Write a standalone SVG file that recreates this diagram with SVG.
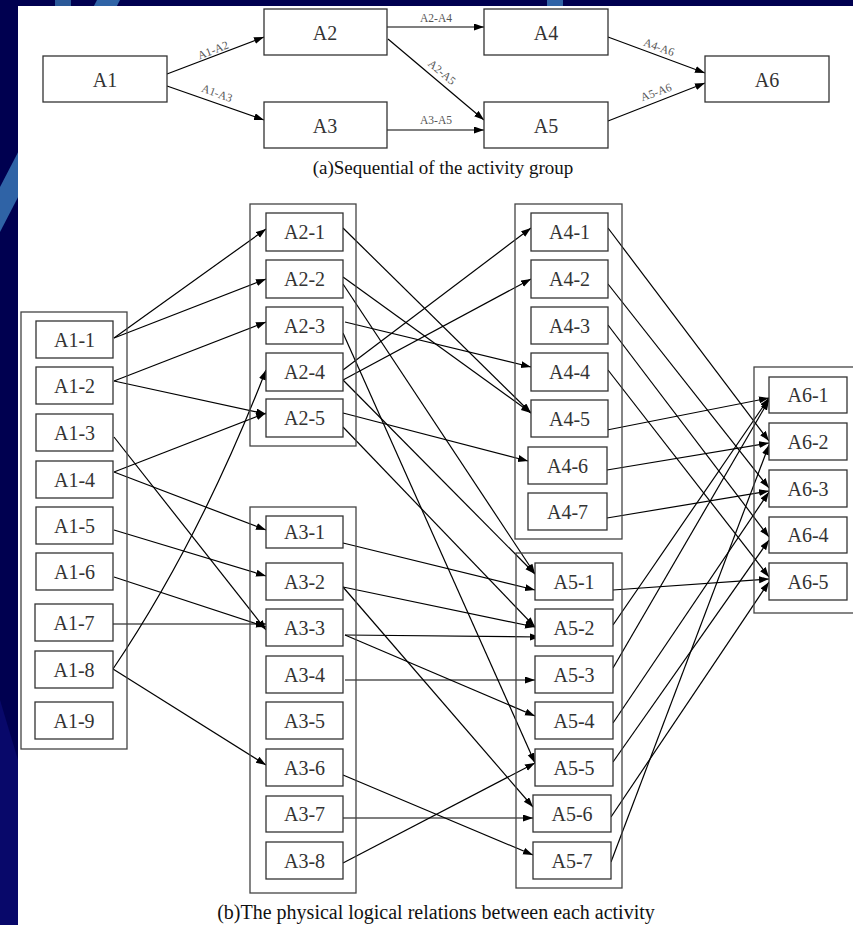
<svg xmlns="http://www.w3.org/2000/svg" width="853" height="925" viewBox="0 0 853 925">
<style>
.bx{fill:#fff;stroke:#333;stroke-width:1.3}
.grp{fill:none;stroke:#444;stroke-width:1.3}
.lb{font-family:"Liberation Serif","Times New Roman",serif;font-size:20px;fill:#333;text-anchor:middle}
.el{font-family:"Liberation Serif","Times New Roman",serif;font-size:11.5px;fill:#555;text-anchor:middle}
.cap{font-family:"Liberation Serif","Times New Roman",serif;fill:#111;text-anchor:middle}
.cn path{fill:none;stroke:#000;stroke-width:1.2;marker-end:url(#ah)}
</style>
<defs>
<marker id="ah" markerUnits="userSpaceOnUse" markerWidth="11" markerHeight="8" refX="10" refY="3.5" orient="auto">
<path d="M0,0 L10,3.5 L0,7 Z" fill="#000"/>
</marker>
</defs>
<g id="background">
<rect x="0" y="0" width="853" height="925" fill="#000050"/>
<polygon points="97,0 120,0 0,232 0,187" fill="#2f63a6"/>
<rect x="55" y="0" width="16" height="6" fill="#2a5898"/>
<rect x="547" y="0" width="16" height="6" fill="#2f63a6"/>
<polygon points="0,700 18,760 18,925 0,925" fill="#08086a"/>
<rect x="18" y="6" width="835" height="919" fill="#fff"/>
</g>
<g id="connectors" class="cn">
<path d="M167,74 L264,37"/>
<path d="M167,86 L264,120"/>
<path d="M387,27 L484,27"/>
<path d="M388,39 L484,120"/>
<path d="M387,130 L484,130"/>
<path d="M608,37 L705,73"/>
<path d="M608,121 L705,83"/>
<path d="M114,338 L266,229"/>
<path d="M114,338 L266,279"/>
<path d="M114,381 L266,322"/>
<path d="M114,381 L266,414"/>
<path d="M114,437 L266,630"/>
<path d="M114,472 L266,413"/>
<path d="M114,472 L266,530"/>
<path d="M114,530 L266,576"/>
<path d="M114,577 L266,627"/>
<path d="M113,624 L266,624"/>
<path d="M113,669 Q200,540 266,370"/>
<path d="M113,669 L266,765"/>
<path d="M343,228 L531,413"/>
<path d="M343,277 L531,413"/>
<path d="M343,284 L535,574"/>
<path d="M345,322 L531,367"/>
<path d="M343,333 L535,763"/>
<path d="M343,370 L531,228"/>
<path d="M343,380 L531,279"/>
<path d="M343,380 L535,574"/>
<path d="M343,413 L528,461"/>
<path d="M343,427 L535,627"/>
<path d="M343,543 L535,590"/>
<path d="M343,587 L535,627"/>
<path d="M343,587 L533,807"/>
<path d="M345,635 L540,637"/>
<path d="M345,635 L535,716"/>
<path d="M345,680 L535,680"/>
<path d="M343,775 L533,855"/>
<path d="M343,818 L533,818"/>
<path d="M343,863 L535,763"/>
<path d="M608,228 L769,441"/>
<path d="M608,284 L769,488"/>
<path d="M608,325 L769,537"/>
<path d="M608,370 L769,577"/>
<path d="M607,430 L769,398"/>
<path d="M607,470 L769,443"/>
<path d="M607,518 L769,491"/>
<path d="M613,590 L769,579"/>
<path d="M613,625 L769,398"/>
<path d="M613,668 L769,400"/>
<path d="M613,723 L769,492"/>
<path d="M613,762 L769,540"/>
<path d="M611,817 L769,582"/>
<path d="M611,862 L769,445"/>
</g>
<g id="edge-labels">
<text class="el" transform="translate(213,50) rotate(-21)" y="4">A1-A2</text>
<text class="el" transform="translate(217,93) rotate(20)" y="4">A1-A3</text>
<text class="el" x="436" y="22">A2-A4</text>
<text class="el" transform="translate(442,72) rotate(40)" y="4">A2-A5</text>
<text class="el" x="436" y="124">A3-A5</text>
<text class="el" transform="translate(659,47) rotate(20)" y="4">A4-A6</text>
<text class="el" transform="translate(656,92) rotate(-20)" y="4">A5-A6</text>
</g>
<g id="A1"><rect class="bx" x="43" y="56" width="124" height="46"/><text class="lb" x="105" y="87">A1</text></g>
<g id="A2"><rect class="bx" x="264" y="9" width="123" height="46"/><text class="lb" x="325" y="40">A2</text></g>
<g id="A3"><rect class="bx" x="264" y="102" width="123" height="46"/><text class="lb" x="325" y="133">A3</text></g>
<g id="A4"><rect class="bx" x="484" y="9" width="124" height="46"/><text class="lb" x="546" y="40">A4</text></g>
<g id="A5"><rect class="bx" x="484" y="102" width="124" height="46"/><text class="lb" x="546" y="133">A5</text></g>
<g id="A6"><rect class="bx" x="705" y="56" width="124" height="46"/><text class="lb" x="767" y="87">A6</text></g>
<text class="cap" x="443" y="174" font-size="19">(a)Sequential of the activity group</text>
<g id="G1"><rect class="grp" x="21" y="312" width="106" height="437"/></g>
<g id="G2"><rect class="grp" x="250" y="204" width="106" height="242"/></g>
<g id="G3"><rect class="grp" x="250" y="507" width="106" height="386"/></g>
<g id="G4"><rect class="grp" x="515" y="204" width="107" height="335"/></g>
<g id="G5"><rect class="grp" x="516" y="553" width="106" height="335"/></g>
<g id="G6"><rect class="grp" x="754" y="367" width="110" height="246"/></g>
<g id="A1-1"><rect class="bx" x="36" y="321" width="77" height="37"/><text class="lb" x="74.5" y="346.5">A1-1</text></g>
<g id="A1-2"><rect class="bx" x="36" y="367" width="77" height="37"/><text class="lb" x="74.5" y="392.5">A1-2</text></g>
<g id="A1-3"><rect class="bx" x="36" y="414" width="77" height="37"/><text class="lb" x="74.5" y="439.5">A1-3</text></g>
<g id="A1-4"><rect class="bx" x="36" y="461" width="77" height="37"/><text class="lb" x="74.5" y="486.5">A1-4</text></g>
<g id="A1-5"><rect class="bx" x="36" y="507" width="77" height="37"/><text class="lb" x="74.5" y="532.5">A1-5</text></g>
<g id="A1-6"><rect class="bx" x="36" y="553" width="77" height="37"/><text class="lb" x="74.5" y="578.5">A1-6</text></g>
<g id="A1-7"><rect class="bx" x="35" y="604" width="78" height="37"/><text class="lb" x="74" y="629.5">A1-7</text></g>
<g id="A1-8"><rect class="bx" x="35" y="651" width="78" height="37"/><text class="lb" x="74" y="676.5">A1-8</text></g>
<g id="A1-9"><rect class="bx" x="35" y="702" width="78" height="37"/><text class="lb" x="74" y="727.5">A1-9</text></g>
<g id="A2-1"><rect class="bx" x="266" y="213" width="77" height="38"/><text class="lb" x="304.5" y="239">A2-1</text></g>
<g id="A2-2"><rect class="bx" x="266" y="260" width="77" height="38"/><text class="lb" x="304.5" y="286">A2-2</text></g>
<g id="A2-3"><rect class="bx" x="266" y="307" width="77" height="37"/><text class="lb" x="304.5" y="332.5">A2-3</text></g>
<g id="A2-4"><rect class="bx" x="266" y="353" width="77" height="38"/><text class="lb" x="304.5" y="379">A2-4</text></g>
<g id="A2-5"><rect class="bx" x="266" y="399" width="77" height="38"/><text class="lb" x="304.5" y="425">A2-5</text></g>
<g id="A3-1"><rect class="bx" x="266" y="516" width="77" height="32"/><text class="lb" x="304.5" y="539">A3-1</text></g>
<g id="A3-2"><rect class="bx" x="266" y="563" width="77" height="37"/><text class="lb" x="304.5" y="588.5">A3-2</text></g>
<g id="A3-3"><rect class="bx" x="266" y="609" width="77" height="37"/><text class="lb" x="304.5" y="634.5">A3-3</text></g>
<g id="A3-4"><rect class="bx" x="266" y="656" width="77" height="37"/><text class="lb" x="304.5" y="681.5">A3-4</text></g>
<g id="A3-5"><rect class="bx" x="266" y="702" width="77" height="37"/><text class="lb" x="304.5" y="727.5">A3-5</text></g>
<g id="A3-6"><rect class="bx" x="266" y="749" width="77" height="37"/><text class="lb" x="304.5" y="774.5">A3-6</text></g>
<g id="A3-7"><rect class="bx" x="266" y="796" width="77" height="36"/><text class="lb" x="304.5" y="821">A3-7</text></g>
<g id="A3-8"><rect class="bx" x="266" y="842" width="77" height="37"/><text class="lb" x="304.5" y="867.5">A3-8</text></g>
<g id="A4-1"><rect class="bx" x="531" y="213" width="77" height="38"/><text class="lb" x="569.5" y="239">A4-1</text></g>
<g id="A4-2"><rect class="bx" x="531" y="260" width="77" height="38"/><text class="lb" x="569.5" y="286">A4-2</text></g>
<g id="A4-3"><rect class="bx" x="531" y="307" width="77" height="37"/><text class="lb" x="569.5" y="332.5">A4-3</text></g>
<g id="A4-4"><rect class="bx" x="531" y="353" width="77" height="38"/><text class="lb" x="569.5" y="379">A4-4</text></g>
<g id="A4-5"><rect class="bx" x="531" y="400" width="77" height="37"/><text class="lb" x="569.5" y="425.5">A4-5</text></g>
<g id="A4-6"><rect class="bx" x="528" y="447" width="79" height="37"/><text class="lb" x="567.5" y="472.5">A4-6</text></g>
<g id="A4-7"><rect class="bx" x="528" y="493" width="79" height="37"/><text class="lb" x="567.5" y="518.5">A4-7</text></g>
<g id="A5-1"><rect class="bx" x="535" y="563" width="78" height="37"/><text class="lb" x="574" y="588.5">A5-1</text></g>
<g id="A5-2"><rect class="bx" x="535" y="609" width="78" height="37"/><text class="lb" x="574" y="634.5">A5-2</text></g>
<g id="A5-3"><rect class="bx" x="535" y="656" width="78" height="37"/><text class="lb" x="574" y="681.5">A5-3</text></g>
<g id="A5-4"><rect class="bx" x="535" y="702" width="78" height="37"/><text class="lb" x="574" y="727.5">A5-4</text></g>
<g id="A5-5"><rect class="bx" x="535" y="749" width="78" height="37"/><text class="lb" x="574" y="774.5">A5-5</text></g>
<g id="A5-6"><rect class="bx" x="533" y="795" width="78" height="37"/><text class="lb" x="572" y="820.5">A5-6</text></g>
<g id="A5-7"><rect class="bx" x="533" y="842" width="78" height="37"/><text class="lb" x="572" y="867.5">A5-7</text></g>
<g id="A6-1"><rect class="bx" x="769" y="377" width="78" height="36"/><text class="lb" x="808" y="402">A6-1</text></g>
<g id="A6-2"><rect class="bx" x="769" y="423" width="78" height="37"/><text class="lb" x="808" y="448.5">A6-2</text></g>
<g id="A6-3"><rect class="bx" x="769" y="470" width="78" height="37"/><text class="lb" x="808" y="495.5">A6-3</text></g>
<g id="A6-4"><rect class="bx" x="769" y="517" width="78" height="36"/><text class="lb" x="808" y="542">A6-4</text></g>
<g id="A6-5"><rect class="bx" x="769" y="563" width="78" height="37"/><text class="lb" x="808" y="588.5">A6-5</text></g>
<text class="cap" x="436" y="919" font-size="20">(b)The physical logical relations between each activity</text>
</svg>
